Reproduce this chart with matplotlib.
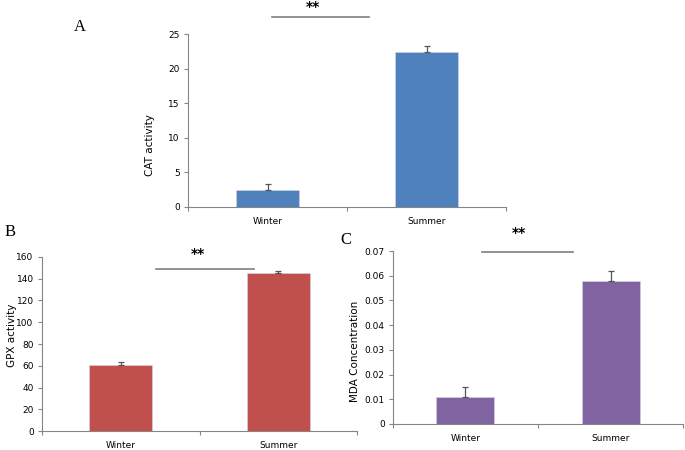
import matplotlib.pyplot as plt
from matplotlib.lines import Line2D

# data
seasons = ['Winter', 'Summer']
cat_vals = [2.5, 22.4]
cat_err = [0.8, 0.8]
gpx_vals = [61.0, 145.5]
gpx_err = [2.0, 2.0]
mda_vals = [0.011, 0.058]
mda_err = [0.004, 0.004]

cat_ticks = [0, 5, 10, 15, 20, 25]
gpx_ticks = [0, 20, 40, 60, 80, 100, 120, 140, 160]
mda_ticks = [0, 0.01, 0.02, 0.03, 0.04, 0.05, 0.06, 0.07]
mda_labels = ['0', '0.01', '0.02', '0.03', '0.04', '0.05', '0.06', '0.07']

fig = plt.figure(figsize=(6.85, 4.5), dpi=100)
axis_grey = '#868686'


def draw_panel(rect, vals, errs, color, ticks, ylabel, label_xy, ticklabels=None):
    ax = fig.add_axes(rect)
    x = list(range(len(seasons)))
    ax.bar(x, vals, width=0.4, color=color, edgecolor='#d8d8e8', linewidth=0.4, zorder=2)
    ax.errorbar(x, vals, yerr=[[0] * len(errs), errs], fmt='none',
                ecolor='#555555', elinewidth=0.9, capsize=2.2, capthick=0.9, zorder=3)
    ax.set_xlim(-0.5, 1.5)
    ax.set_ylim(ticks[0], ticks[-1])
    ax.set_yticks(ticks)
    if ticklabels is not None:
        ax.set_yticklabels(ticklabels)
    ax.set_xticks(x)
    ax.set_xticklabels(seasons)
    ax.set_xticks([-0.5, 0.5, 1.5], minor=True)
    ax.tick_params(axis='x', which='major', length=0, labelsize=6.5, pad=7)
    ax.tick_params(axis='x', which='minor', length=3, color=axis_grey, width=0.8)
    ax.tick_params(axis='y', length=3, color=axis_grey, width=0.8, labelsize=6.5, pad=3)
    for s in ['top', 'right']:
        ax.spines[s].set_visible(False)
    for s in ['left', 'bottom']:
        ax.spines[s].set_color(axis_grey)
        ax.spines[s].set_linewidth(0.8)
    ax.set_ylabel(ylabel, fontsize=7.5)
    ax.yaxis.set_label_coords(*label_xy)
    return ax


# panel A
axA = draw_panel([0.2745, 0.54, 0.4642, 0.3844], cat_vals, cat_err, '#4F81BD',
                 cat_ticks, 'CAT activity', (-0.104, 0.36))
axA.add_line(Line2D([0.03, 0.64], [27.45, 27.45], color='#7f7f7f', lw=1.2, clip_on=False))
axA.text(0.283, 28.9, '**', ha='center', va='center', fontsize=10, fontweight='bold',
         clip_on=False)
fig.text(0.117, 0.94, 'A', family='Liberation Serif', fontsize=12, va='center', ha='center')

# panel B
axB = draw_panel([0.0613, 0.0422, 0.4599, 0.3867], gpx_vals, gpx_err, '#C0504D',
                 gpx_ticks, 'GPX activity', (-0.078, 0.55))
axB.add_line(Line2D([0.226, 0.844], [149, 149], color='#7f7f7f', lw=1.2, clip_on=False))
axB.text(0.487, 163, '**', ha='center', va='center', fontsize=10, fontweight='bold',
         clip_on=False)
fig.text(0.014, 0.484, 'B', family='Liberation Serif', fontsize=12, va='center', ha='center')

# panel C
axC = draw_panel([0.5737, 0.0578, 0.4234, 0.3844], mda_vals, mda_err, '#8064A2',
                 mda_ticks, 'MDA Concentration', (-0.114, 0.42), mda_labels)
axC.add_line(Line2D([0.115, 0.74], [0.0696, 0.0696], color='#7f7f7f', lw=1.2, clip_on=False))
axC.text(0.365, 0.0772, '**', ha='center', va='center', fontsize=10, fontweight='bold',
         clip_on=False)
fig.text(0.505, 0.467, 'C', family='Liberation Serif', fontsize=12, va='center', ha='center')

fig.savefig('out.png', dpi=100)
